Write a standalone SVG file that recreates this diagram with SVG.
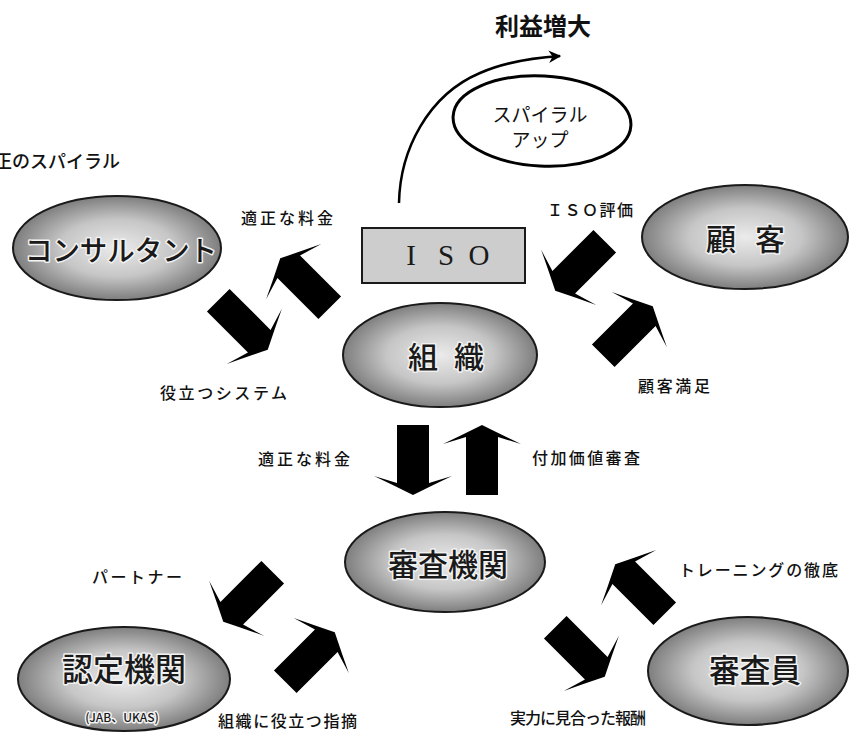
<svg xmlns="http://www.w3.org/2000/svg" xmlns:xlink="http://www.w3.org/1999/xlink" width="849" height="733" viewBox="0 0 849 733">
<style>
.t{font-family:"Noto Sans CJK JP","Noto Sans",sans-serif;fill:#111;}
.lab{font-size:16px;font-weight:500;}
.big{font-weight:500;fill:#1a1a1a;stroke:#f2f2f2;stroke-width:3;paint-order:stroke;stroke-linejoin:round;}
.el{fill:url(#g);stroke:#1a1a1a;stroke-width:2;}
.arr{fill:#000;}
</style>
<defs>
<radialGradient id="g" cx="50%" cy="50%" r="50%">
<stop offset="0" stop-color="#ebebeb"/>
<stop offset="0.55" stop-color="#c6c6c6"/>
<stop offset="1" stop-color="#7e7e7e"/>
</radialGradient>
<path id="arr" class="arr" d="M -16 35 L 16 35 L 16 -23 L 39 -16 Q 20 -25 0 -35 Q -20 -25 -39 -16 L -16 -23 Z"/>
<marker id="mh" viewBox="0 0 10 10" refX="9" refY="5" markerWidth="5" markerHeight="5" orient="auto" markerUnits="strokeWidth">
<path d="M0 0 L10 5 L0 10 L3 5 Z" fill="#000"/>
</marker>
</defs>

<text class="t" x="-6" y="168" font-size="18" font-weight="500">正のスパイラル</text>
<text class="t" x="543" y="35" font-size="24" font-weight="700" text-anchor="middle">利益増大</text>

<g id="spiral">
<ellipse cx="542" cy="121" rx="89" ry="45" fill="#fff" stroke="#000" stroke-width="3" transform="rotate(3 542 121)"/>
<text class="t" x="540" y="122" font-size="19" text-anchor="middle">スパイラル</text>
<text class="t" x="540" y="147" font-size="19" text-anchor="middle">アップ</text>
</g>

<g id="consultant">
<ellipse class="el" cx="117" cy="248" rx="104" ry="52"/>
<text class="t big" x="121" y="261" font-size="28" textLength="192" lengthAdjust="spacingAndGlyphs" text-anchor="middle">コンサルタント</text>
</g>

<g id="iso">
<rect x="362" y="228" width="163" height="55" fill="#cdcdcd" stroke="#1a1a1a" stroke-width="2"/>
<text x="411" y="265" font-family="Liberation Serif, serif" font-size="29" fill="#1a1a1a" text-anchor="middle">I</text>
<text x="446" y="265" font-family="Liberation Serif, serif" font-size="29" fill="#1a1a1a" text-anchor="middle">S</text>
<text x="479" y="265" font-family="Liberation Serif, serif" font-size="29" fill="#1a1a1a" text-anchor="middle">O</text>
</g>

<g id="customer">
<ellipse class="el" cx="745" cy="237" rx="103" ry="52"/>
<text class="t big" x="721" y="250" font-size="30" text-anchor="middle">顧</text>
<text class="t big" x="770" y="250" font-size="30" text-anchor="middle">客</text>
</g>

<g id="org">
<ellipse class="el" cx="440" cy="355" rx="97" ry="52"/>
<text class="t big" x="423" y="368" font-size="30" text-anchor="middle">組</text>
<text class="t big" x="469" y="368" font-size="30" text-anchor="middle">織</text>
</g>

<g id="auditbody">
<ellipse class="el" cx="445" cy="562" rx="100" ry="50"/>
<text class="t big" x="448" y="576" font-size="31" text-anchor="middle" textLength="120" lengthAdjust="spacingAndGlyphs">審査機関</text>
</g>

<g id="accreditation">
<ellipse class="el" cx="124" cy="679" rx="106" ry="52"/>
<text class="t big" x="124" y="681" font-size="32" text-anchor="middle" textLength="124" lengthAdjust="spacingAndGlyphs">認定機関</text>
<text class="t big" x="122" y="722" font-size="12" text-anchor="middle" stroke-width="2">(JAB、UKAS)</text>
</g>

<g id="auditor">
<ellipse class="el" cx="748" cy="671" rx="100" ry="54"/>
<text class="t big" x="755" y="682" font-size="32" text-anchor="middle" textLength="92" lengthAdjust="spacingAndGlyphs">審査員</text>
</g>

<g id="connectors">
<path d="M399 203 C 400 150, 428 95, 480 73 C 505 62, 530 58, 560 56" fill="none" stroke="#000" stroke-width="2.5" marker-end="url(#mh)"/>
<use href="#arr" transform="translate(305 283) rotate(-45)"/>
<use href="#arr" transform="translate(243 325) rotate(135)"/>
<use href="#arr" transform="translate(580 266) rotate(-135)"/>
<use href="#arr" transform="translate(628 331) rotate(45)"/>
<use href="#arr" transform="translate(413 460) rotate(180)"/>
<use href="#arr" transform="translate(482 460)"/>
<use href="#arr" transform="translate(248 597) rotate(-135)"/>
<use href="#arr" transform="translate(310 657) rotate(45)"/>
<use href="#arr" transform="translate(640 589) rotate(-45)"/>
<use href="#arr" transform="translate(580 652) rotate(135)"/>

<text class="t lab" x="241" y="224" textLength="92" lengthAdjust="spacing">適正な料金</text>
<text class="t lab" x="547" y="216" textLength="86" lengthAdjust="spacing">ＩＳＯ評価</text>
<text class="t lab" x="638" y="392" textLength="72" lengthAdjust="spacing">顧客満足</text>
<text class="t lab" x="160" y="399" textLength="127" lengthAdjust="spacing">役立つシステム</text>
<text class="t lab" x="258" y="465" textLength="92" lengthAdjust="spacing">適正な料金</text>
<text class="t lab" x="532" y="464" textLength="108" lengthAdjust="spacing">付加価値審査</text>
<text class="t lab" x="92" y="583" textLength="90" lengthAdjust="spacing">パートナー</text>
<text class="t lab" x="218" y="727" textLength="139" lengthAdjust="spacing">組織に役立つ指摘</text>
<text class="t lab" x="510" y="724" textLength="136" lengthAdjust="spacing">実力に見合った報酬</text>
<text class="t lab" x="679" y="576" textLength="159" lengthAdjust="spacing">トレーニングの徹底</text>
</g>
</svg>
